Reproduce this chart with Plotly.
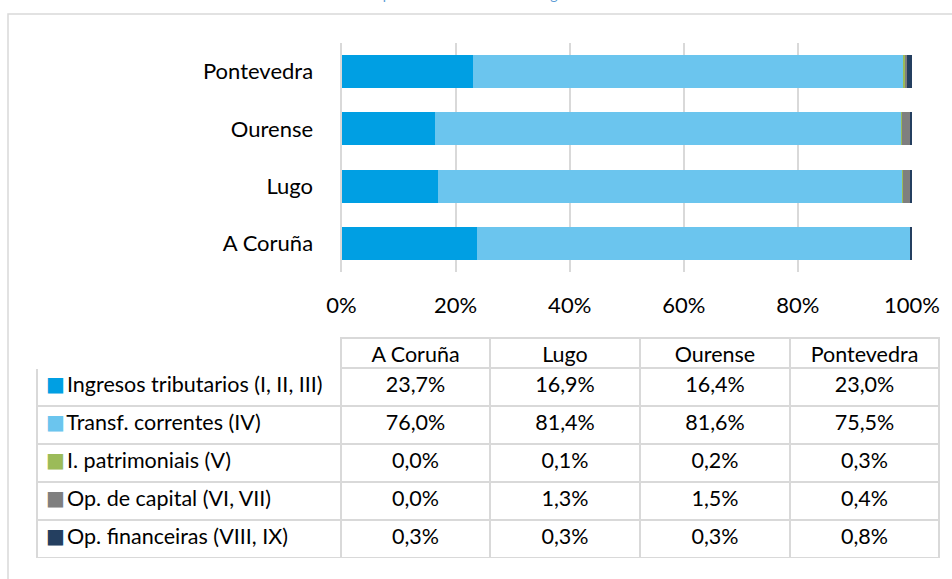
import plotly.graph_objects as go

W, H = 952, 579

categories = ["A Coruña", "Lugo", "Ourense", "Pontevedra"]
series_names = [
    "Ingresos tributarios (I, II, III)",
    "Transf. correntes (IV)",
    "I. patrimoniais (V)",
    "Op. de capital (VI, VII)",
    "Op. financeiras (VIII, IX)",
]
ingresos_tributarios = [23.7, 16.9, 16.4, 23.0]
transf_correntes = [76.0, 81.4, 81.6, 75.5]
i_patrimoniais = [0.0, 0.1, 0.2, 0.3]
op_capital = [0.0, 1.3, 1.5, 0.4]
op_financeiras = [0.3, 0.3, 0.3, 0.8]
series_values = [ingresos_tributarios, transf_correntes, i_patrimoniais, op_capital, op_financeiras]
colors = ["#009FE3", "#6BC5EE", "#9BBB59", "#7F7F7F", "#243F60"]
x_ticks = [0, 20, 40, 60, 80, 100]
x_ticktext = ["0%", "20%", "40%", "60%", "80%", "100%"]
title_text = "Comparativa da estrutura dos ingresos 2015"

FONT = "Lato"
FS = 22
TFS = 21.5
GRID = "#D9D9D9"

def px_x(p):
    return p / W

def px_y(p):
    return 1 - p / H

fig = go.Figure()
for name, vals, col in zip(series_names, series_values, colors):
    fig.add_trace(go.Bar(
        y=categories, x=vals, name=name, orientation="h",
        marker=dict(color=col, line=dict(width=0)),
        showlegend=False, hoverinfo="x+y+name",
    ))

def fmt(v):
    return f"{v:.1f}%".replace(".", ",")

NB = "\u00a0" * 4
first_col = [NB + n for n in series_names]
cols = [first_col]
for i in range(len(categories)):
    cols.append([fmt(s[i]) for s in series_values])

table_y = [px_y(559), px_y(338)]

fig.add_trace(go.Table(
    domain=dict(x=[px_x(37), px_x(939)], y=table_y),
    columnwidth=[304, 149, 150, 150, 149],
    header=dict(
        values=[""] + categories,
        height=30,
        align="center",
        fill=dict(color="white"),
        line=dict(color=["white", GRID, GRID, GRID, GRID], width=1.5),
        font=dict(family=FONT, size=TFS, color="#000000"),
    ),
    cells=dict(
        values=cols,
        height=38,
        align=["left", "center", "center", "center", "center"],
        fill=dict(color="white"),
        line=dict(color=GRID, width=1.5),
        font=dict(family=FONT, size=TFS, color="#000000"),
    ),
))

# legend squares overlaid in the first column
fig.add_trace(go.Table(
    domain=dict(x=[px_x(38), px_x(70)], y=table_y),
    columnwidth=[1],
    header=dict(
        values=[""], height=30,
        fill=dict(color="rgba(0,0,0,0)"),
        line=dict(color="rgba(0,0,0,0)", width=0),
    ),
    cells=dict(
        values=[["■"] * len(series_names)],
        height=38, align="left",
        fill=dict(color="rgba(0,0,0,0)"),
        line=dict(color="rgba(0,0,0,0)", width=0),
        font=dict(family="DejaVu Sans", size=20, color=[colors]),
    ),
))

fig.update_layout(
    template="none",
    width=W, height=H, autosize=False,
    margin=dict(l=0, r=0, t=0, b=0, pad=0, autoexpand=False),
    paper_bgcolor="white", plot_bgcolor="white",
    barmode="stack", bargap=0.42,
    font=dict(family=FONT, size=FS, color="#000000"),
    xaxis=dict(
        domain=[px_x(341.5), px_x(912)],
        range=[0, 100], tickvals=x_ticks, ticktext=x_ticktext,
        showgrid=True, gridcolor=GRID, gridwidth=1.5,
        zeroline=False, showline=False, ticks="",
        ticklabelstandoff=18, automargin=False,
        tickfont=dict(family=FONT, size=FS, color="#000000"),
        fixedrange=True,
    ),
    yaxis=dict(
        domain=[px_y(272), px_y(43)],
        categoryorder="array", categoryarray=categories,
        showgrid=False, zeroline=False,
        showline=True, linecolor=GRID, linewidth=2,
        ticks="", ticklabelstandoff=22, automargin=False,
        tickfont=dict(family=FONT, size=FS, color="#000000"),
        fixedrange=True,
    ),
    shapes=[dict(
        type="rect", xref="paper", yref="paper",
        x0=px_x(8), x1=1.02, y0=-0.02, y1=px_y(14),
        line=dict(color=GRID, width=1.5), fillcolor="rgba(0,0,0,0)", layer="below",
    )],
    annotations=[dict(
        text=title_text, xref="paper", yref="paper",
        x=px_x(490), y=px_y(5), xanchor="center", yanchor="bottom",
        showarrow=False, font=dict(family=FONT, size=14, color="#5B9BD5"),
    )],
)

fig.write_html(
    "out.html",
    config={"displayModeBar": False},
    post_script="document.body.style.margin='0';document.documentElement.style.overflow='hidden';document.body.style.overflow='hidden';",
)
